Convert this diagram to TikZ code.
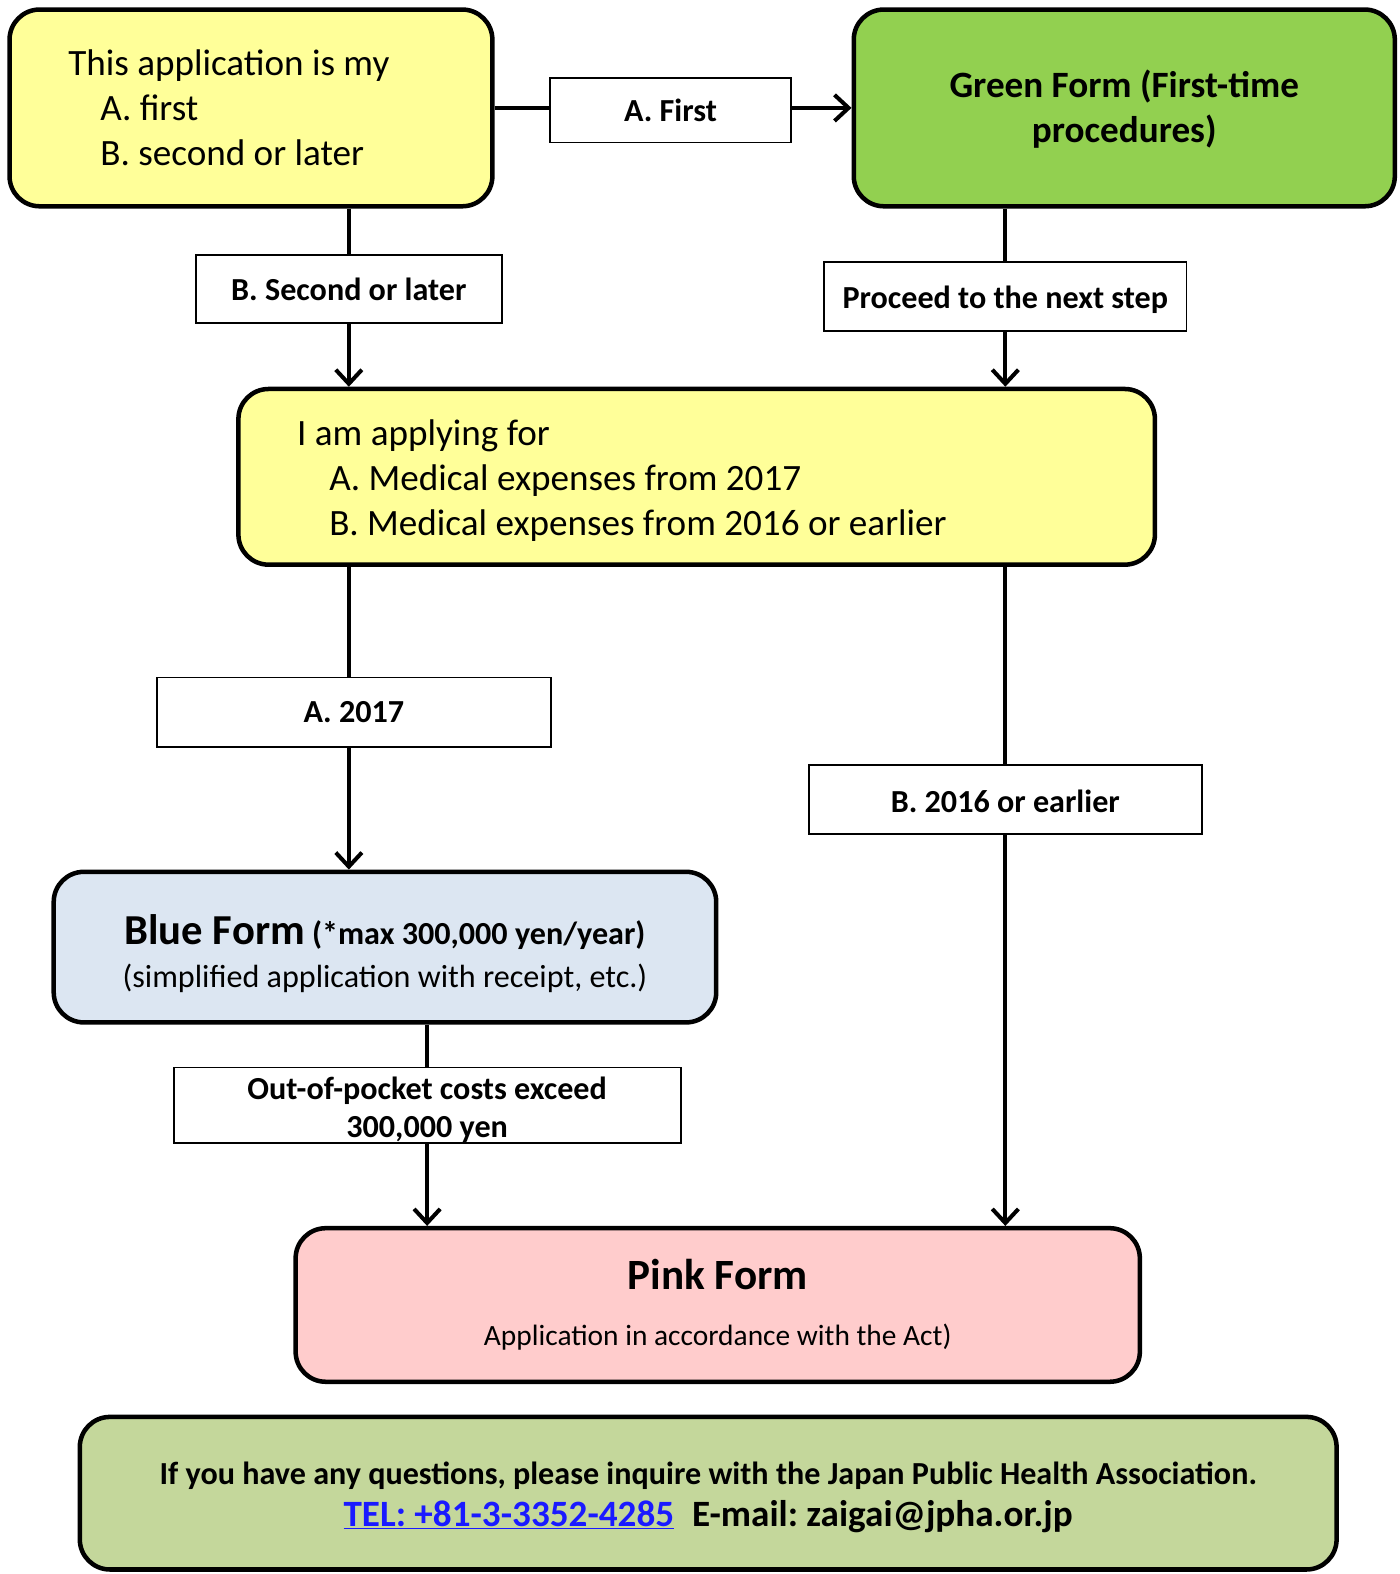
\documentclass[tikz,border=0pt]{standalone}
\usepackage{fontspec}
\setmainfont{Carlito}
\frenchspacing
\usetikzlibrary{arrows.meta}
\definecolor{formyellow}{HTML}{FFFF99}
\definecolor{formgreen}{HTML}{92D050}
\definecolor{formblue}{HTML}{DCE6F2}
\definecolor{formpink}{HTML}{FFCCCC}
\definecolor{infogreen}{HTML}{C4D79B}
\definecolor{telblue}{HTML}{1A1AFF}
\begin{document}
\begin{tikzpicture}[x=1pt, y=-1pt,
        fb/.style={draw, line width=4.5pt, rounded corners=30pt, inner sep=0pt},
        lb/.style={draw, fill=white, line width=1.8pt, inner sep=0pt, align=center,
          font=\bfseries\fontsize{32}{38}\selectfont},
        ln/.style={line width=4pt},
        ar/.style={ln, -{Straight Barb[length=14pt, width=26pt]}}
      ]
      \useasboundingbox (0,0) rectangle (1394,1568);
      % decision boxes and forms
      \node[fb, fill=formyellow, minimum width=481pt, minimum height=196pt,
        align=flush left, text width=364pt, font=\fontsize{37}{45}\selectfont]
        (first) at (250,107.5) {This application is my\\
        \hspace*{32pt}A. first\\ \hspace*{32pt}B. second or later};
      \node[fb, fill=formgreen, minimum width=539pt, minimum height=196pt,
        align=center, font=\bfseries\fontsize{37}{45}\selectfont]
        (green) at (1120,107.5) {\rule{0pt}{30pt}Green Form (First-time\\ procedures)};
      \node[fb, fill=formyellow, minimum width=913pt, minimum height=175pt,
        align=flush left, text width=796pt, font=\fontsize{37}{45}\selectfont]
        (year) at (694,475) {\rule{0pt}{33pt}I am applying for\\
        \hspace*{32pt}A. Medical expenses from 2017\\
        \hspace*{32pt}B. Medical expenses from 2016 or earlier};
      \node[fb, fill=formblue, minimum width=660pt, minimum height=150pt,
        align=flush center, text width=640pt, font=\fontsize{32}{43}\selectfont]
        (blue) at (383.5,943.5) {\rule{0pt}{42pt}{\bfseries\fontsize{42.5}{44}\selectfont Blue Form}
        {\bfseries (*max 300,000 yen/year)}\\ (simplified application with receipt, etc.)};
      \node[fb, fill=formpink, minimum width=841pt, minimum height=153pt,
        align=center, font=\fontsize{29.3}{34}\selectfont]
        (pink) at (715,1300) {{\bfseries\fontsize{43}{44}\selectfont Pink Form}\\[22pt]
        Application in accordance with the Act)};
      \node[fb, fill=infogreen, minimum width=1252pt, minimum height=152pt,
        align=flush center, text width=1230pt, font=\bfseries\fontsize{32}{42}\selectfont]
        (info) at (705.5,1487.5) {\rule{0pt}{31pt}If you have any questions, please inquire with the Japan Public Health Association.\\
        {\fontsize{37}{42}\selectfont\textcolor{telblue}{\underline{TEL: +81-3-3352-4285}}\hspace{18pt}E-mail: zaigai@jpha.or.jp}};
      % answer labels
      \node[lb, minimum width=240pt, minimum height=64pt] (labfirst) at (668,110) {A. First};
      \node[lb, minimum width=305pt, minimum height=68pt] (labsecond) at (347.5,288) {B. Second or later};
      \node[lb, minimum width=361pt, minimum height=69pt] (labnext) at (1001.5,295.5) {\rule{0pt}{28pt}Proceed to the next step};
      \node[lb, minimum width=393pt, minimum height=69pt] (lab2017) at (352.5,709.5) {A. 2017};
      \node[lb, minimum width=391pt, minimum height=69pt] (lab2016) at (1001.5,796.5) {\rule{0pt}{27pt}B. 2016 or earlier};
      \node[lb, minimum width=505pt, minimum height=70pt]
        (labexceed) at (425.5,1101) {\rule{0pt}{32pt}Out-of-pocket costs exceed\\ 300,000 yen};
      % connectors
      \draw[ln] (first.east |- 0,107.5) -- (labfirst.west |- 0,107.5);
      \draw[ar] (labfirst.east |- 0,107.5) -- (green.west);
      \draw[ln] (labsecond |- first.south) -- (labsecond.north);
      \draw[ar] (labsecond.south) -- (labsecond |- year.north);
      \draw[ln] (labnext |- green.south) -- (labnext.north);
      \draw[ar] (labnext.south) -- (labnext |- year.north);
      \draw[ln] (labsecond |- year.south) -- (labsecond |- lab2017.north);
      \draw[ar] (labsecond |- lab2017.south) -- (labsecond |- blue.north);
      \draw[ln] (lab2016 |- year.south) -- (lab2016.north);
      \draw[ar] (lab2016.south) -- (lab2016 |- pink.north);
      \draw[ln] (labexceed |- blue.south) -- (labexceed.north);
      \draw[ar] (labexceed.south) -- (labexceed |- pink.north);
    \end{tikzpicture}
\end{document}
